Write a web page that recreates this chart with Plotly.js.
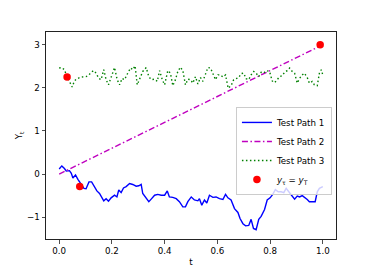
<!DOCTYPE html>
<html><head><meta charset="utf-8">
<script src="https://cdn.plot.ly/plotly-3.0.1.min.js"></script>
<style>html,body{margin:0;padding:0;background:#fff}#c{width:374px;height:273px}</style>
</head><body><div id="c"></div>
<script>
const t1 = [0.000,0.010,0.020,0.027,0.039,0.046,0.052,0.062,0.071,0.083,0.094,0.102,0.113,0.123,0.134,0.143,0.153,0.162,0.169,0.178,0.187,0.197,0.210,0.219,0.226,0.235,0.244,0.254,0.267,0.279,0.292,0.302,0.311,0.317,0.330,0.340,0.349,0.362,0.374,0.387,0.400,0.410,0.418,0.431,0.444,0.456,0.469,0.479,0.488,0.501,0.513,0.526,0.532,0.541,0.551,0.560,0.570,0.583,0.595,0.608,0.621,0.631,0.640,0.652,0.665,0.678,0.686,0.697,0.707,0.719,0.728,0.737,0.747,0.757,0.766,0.779,0.789,0.800,0.810,0.820,0.831,0.842,0.852,0.861,0.871,0.884,0.893,0.903,0.912,0.922,0.930,0.941,0.949,0.962,0.971,0.979,0.987,1.000];
const path1 = [0.12,0.19,0.13,0.07,0.08,0.02,-0.09,-0.02,-0.12,-0.24,-0.33,-0.34,-0.18,-0.18,-0.29,-0.39,-0.45,-0.53,-0.62,-0.57,-0.63,-0.55,-0.49,-0.53,-0.37,-0.43,-0.32,-0.29,-0.22,-0.24,-0.28,-0.27,-0.24,-0.45,-0.57,-0.64,-0.58,-0.49,-0.47,-0.49,-0.49,-0.39,-0.53,-0.54,-0.57,-0.64,-0.76,-0.76,-0.64,-0.53,-0.60,-0.62,-0.57,-0.72,-0.60,-0.67,-0.49,-0.54,-0.53,-0.57,-0.59,-0.47,-0.55,-0.60,-0.80,-0.89,-1.03,-1.15,-1.20,-1.19,-1.05,-1.26,-1.29,-1.05,-0.98,-0.82,-0.60,-0.55,-0.47,-0.36,-0.41,-0.41,-0.43,-0.33,-0.41,-0.51,-0.58,-0.51,-0.53,-0.50,-0.53,-0.59,-0.64,-0.64,-0.64,-0.41,-0.33,-0.29];

const t2 = [0, 1];
const path2 = [0, 3];

const t3 = [0.000,0.010,0.020,0.030,0.039,0.049,0.058,0.067,0.083,0.102,0.113,0.121,0.131,0.140,0.150,0.159,0.169,0.178,0.187,0.197,0.210,0.220,0.229,0.239,0.248,0.260,0.271,0.279,0.288,0.296,0.305,0.317,0.330,0.340,0.349,0.362,0.372,0.381,0.391,0.400,0.412,0.422,0.431,0.441,0.450,0.460,0.469,0.479,0.488,0.498,0.507,0.517,0.526,0.536,0.545,0.555,0.564,0.574,0.583,0.593,0.602,0.612,0.621,0.631,0.641,0.652,0.662,0.671,0.681,0.690,0.700,0.709,0.719,0.728,0.738,0.747,0.757,0.766,0.776,0.785,0.798,0.808,0.817,0.827,0.836,0.846,0.855,0.865,0.874,0.884,0.893,0.903,0.912,0.922,0.930,0.941,0.949,0.960,0.968,0.979,0.987,0.994,1.000];
const path3 = [2.46,2.47,2.42,2.25,2.15,2.02,2.16,2.21,2.25,2.26,2.30,2.36,2.40,2.34,2.22,2.19,2.42,2.19,2.07,2.26,2.47,2.19,2.07,2.22,2.19,2.34,2.46,2.42,2.51,2.07,2.22,2.38,2.47,2.26,2.19,2.20,2.15,2.40,2.19,2.07,2.40,2.34,2.05,2.19,2.38,2.48,2.40,2.07,2.20,2.19,2.11,2.26,2.09,2.24,2.15,2.30,2.47,2.46,2.34,2.19,2.30,2.30,2.25,2.30,1.99,2.05,2.19,2.22,2.24,2.33,2.34,2.21,2.19,2.30,2.38,2.34,2.26,2.36,2.34,2.40,2.38,2.16,2.12,2.19,2.26,2.28,2.36,2.40,2.46,2.38,2.34,2.11,2.22,2.30,2.34,2.24,2.11,2.15,2.07,2.05,2.34,2.42,2.30];

const hitT = [0.030, 0.078, 0.990];
const hitY = [2.25, -0.29, 3.0];

const names = ['Test Path 1', 'Test Path 2', 'Test Path 3', '<i>y</i><sub>τ</sub> = <i>y</i><sub>T</sub>'];
const xTicks = [0, 0.2, 0.4, 0.6, 0.8, 1.0];
const yTicks = [-1, 0, 1, 2, 3];

const font = {family: 'DejaVu Sans', size: 8.7, color: '#000'};
const data = [
  {x: t1, y: path1, mode: 'lines', name: names[0], line: {color: '#0000ff', width: 1.4}},
  {x: t2, y: path2, mode: 'lines', name: names[1], line: {color: '#bf00bf', width: 1.4, dash: '6px,2.5px,1.5px,2.5px'}},
  {x: t3, y: path3, mode: 'lines', name: names[2], line: {color: '#008000', width: 1.4, dash: '1.5px,2.5px'}},
  {x: hitT, y: hitY, mode: 'markers', name: names[3], marker: {color: '#ff0000', size: 7.5}}
];
const axisCommon = {showgrid: false, zeroline: false, showline: true, mirror: true, linecolor: '#222', linewidth: 1,
  ticks: 'outside', ticklen: 3.5, tickwidth: 0.8, tickcolor: '#222', tickfont: font};
const layout = {
  width: 374, height: 273,
  margin: {l: 46, r: 38, t: 32, b: 34},
  paper_bgcolor: '#fff', plot_bgcolor: '#fff',
  font: font,
  showlegend: true,
  xaxis: Object.assign({}, axisCommon, {range: [-0.05, 1.05], tickvals: xTicks, tickformat: '.1f',
    title: {text: 't', font: font, standoff: 3}}),
  yaxis: Object.assign({}, axisCommon, {range: [-1.505, 3.295], tickvals: yTicks,
    title: {text: 'Y<sub>t</sub>', font: font, standoff: 2}}),
  legend: {x: 0.986, y: 0.638, xanchor: 'right', yanchor: 'top', bgcolor: 'rgba(255,255,255,0.8)',
    bordercolor: '#cccccc', borderwidth: 1, font: font, tracegroupgap: 0, itemwidth: 30}
};
Plotly.newPlot('c', data, layout, {displayModeBar: false, staticPlot: true});
</script></body></html>
